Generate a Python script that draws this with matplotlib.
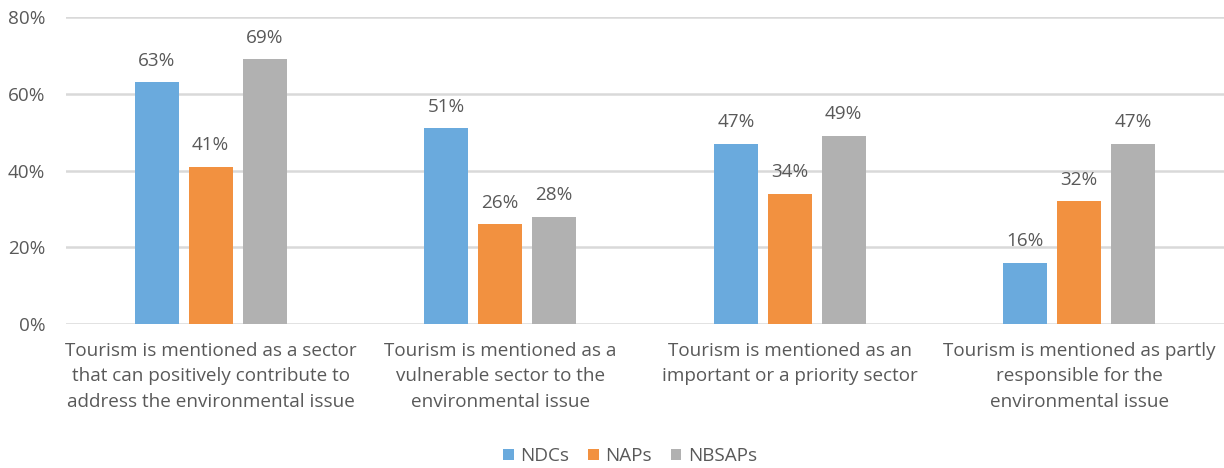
import matplotlib.pyplot as plt
import numpy as np

# share of plans that mention tourism in each way
categories = [
    "Tourism is mentioned as a sector\nthat can positively contribute to\naddress the environmental issue",
    "Tourism is mentioned as a\nvulnerable sector to the\nenvironmental issue",
    "Tourism is mentioned as an\nimportant or a priority sector",
    "Tourism is mentioned as partly\nresponsible for the\nenvironmental issue",
]
series_names = ["NDCs", "NAPs", "NBSAPs"]
ndcs = [63, 51, 47, 16]
naps = [41, 26, 34, 32]
nbsaps = [69, 28, 49, 47]
y_ticks = [0, 20, 40, 60, 80]

colors = ["#6aaadd", "#f29140", "#b1b1b1"]
text_color = "#595959"
fs = 13.6

plt.rcParams['font.family'] = ['Open Sans', 'DejaVu Sans']

fig = plt.figure(figsize=(12.24, 4.68), dpi=100)
ax = fig.add_axes([66 / 1224, 1 - 324 / 468, 1 - 66 / 1224, (324 - 17) / 468])

x = np.arange(len(categories))
width = 0.152
step = 0.186
for i, (name, vals) in enumerate(zip(series_names, [ndcs, naps, nbsaps])):
    pos = x + (i - 1) * step
    bars = ax.bar(pos, vals, width, color=colors[i], label=name, zorder=3)
    for b, v in zip(bars, vals):
        ax.annotate(f"{v}%", (b.get_x() + b.get_width() / 2, v),
                    xytext=(0, 9), textcoords="offset points",
                    ha="center", va="bottom", fontsize=fs, color=text_color)

ax.set_xlim(-0.5, len(categories) - 0.5)
ax.set_ylim(0, 80)
ax.set_yticks(y_ticks)
ax.set_yticklabels([f"{t}%" for t in y_ticks])
ax.set_xticks(x)
ax.set_xticklabels(categories, linespacing=1.52)
ax.tick_params(axis="both", length=0, colors=text_color, labelsize=fs)
ax.tick_params(axis="y", pad=15)
ax.tick_params(axis="x", pad=13)
ax.grid(axis="y", color="#d9d9d9", linewidth=1.8, zorder=0)
for s in ax.spines.values():
    s.set_visible(False)

leg = fig.legend(loc="center", bbox_to_anchor=(630 / 1224, 1 - 456 / 468), ncol=3,
                 frameon=False, fontsize=fs, handlelength=0.55, handleheight=0.55,
                 handletextpad=0.35, columnspacing=1.0)
for t in leg.get_texts():
    t.set_color(text_color)

fig.savefig("out.png", dpi=100)
